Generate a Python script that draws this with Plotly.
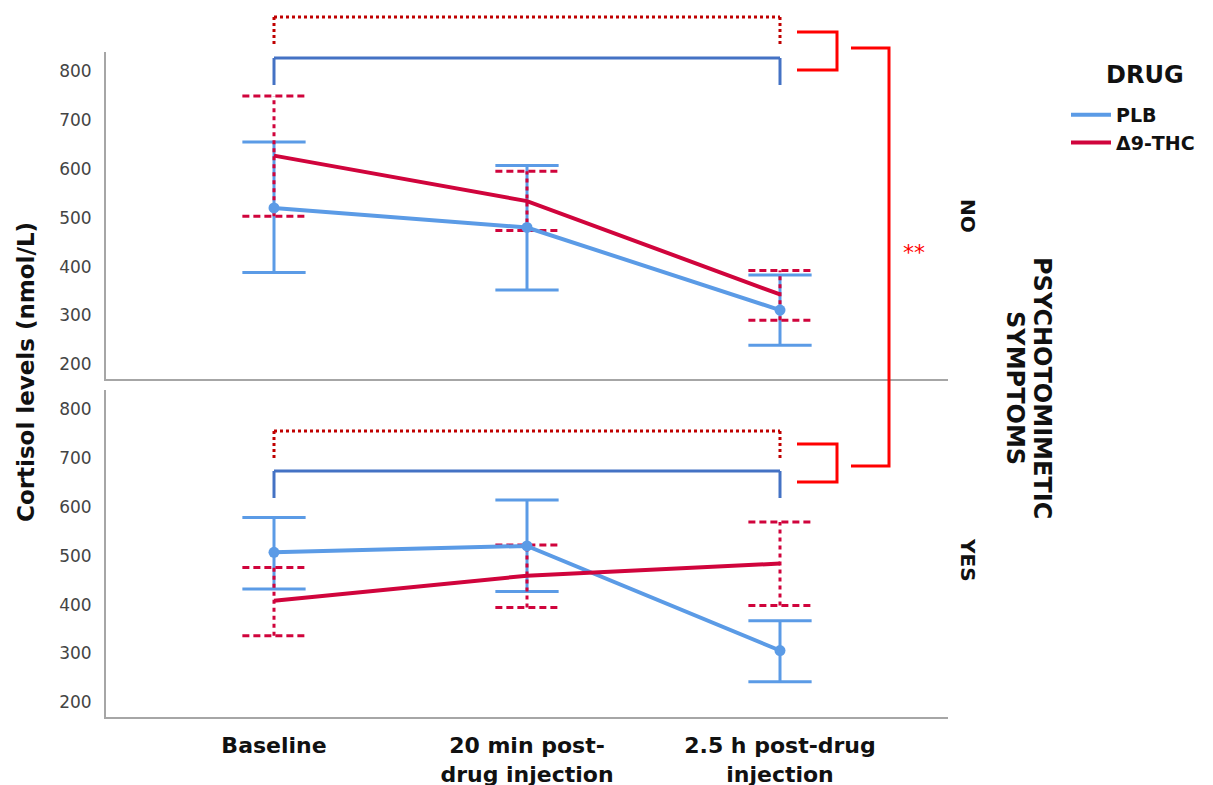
import plotly.graph_objects as go

# ---------------- data ----------------
timepoints = ["Baseline", "20 min post-<br>drug injection", "2.5 h post-drug<br>injection"]
x_pos = [0, 1, 2]

no_plb_mean = [520, 480, 311]
no_plb_lo = [388, 352, 239]
no_plb_hi = [655, 607, 383]
no_thc_mean = [627, 534, 343]
no_thc_lo = [503, 474, 290]
no_thc_hi = [749, 595, 392]

yes_plb_mean = [507, 520, 306]
yes_plb_lo = [432, 427, 242]
yes_plb_hi = [578, 614, 367]
yes_thc_mean = [408, 459, 484]
yes_thc_lo = [336, 394, 398]
yes_thc_hi = [476, 522, 569]

y_ticks = [200, 300, 400, 500, 600, 700, 800]

# ---------------- geometry / style ----------------
W, H = 1213, 785
OFF = 8  # page body margin
ML, MR, MT, MB = 98, 273, 44, 76
PW = W - ML - MR
PH = H - MT - MB


def px_x(px):
    return (px - OFF - ML) / PW


def px_y(py):
    return (H - MB - (py - OFF)) / PH


BLUE = "#5B9BE6"
RED = "#D0043C"
SQ = "#E0607E"
BR_BLUE = "#4472C4"
BR_DRED = "#C00000"
BR_RED = "#FF0000"
FONT = "DejaVu Sans"
CAP_HW = 0.125

fig = go.Figure()


def errbar(x, lo, hi, hw):
    vx, vy, cx, cy = [], [], [], []
    for xi, l, h in zip(x, lo, hi):
        vx += [xi, xi, None]
        vy += [l, h, None]
        cx += [xi - hw, xi + hw, None, xi - hw, xi + hw, None]
        cy += [l, l, None, h, h, None]
    return vx, vy, cx, cy


panels = [
    ("x", "y", no_plb_mean, no_plb_lo, no_plb_hi, no_thc_mean, no_thc_lo, no_thc_hi, True),
    ("x2", "y2", yes_plb_mean, yes_plb_lo, yes_plb_hi, yes_thc_mean, yes_thc_lo, yes_thc_hi, False),
]

for xa, ya, pm, pl, ph, tm, tl, th, show in panels:
    vx, vy, cx, cy = errbar(x_pos, pl, ph, CAP_HW)
    fig.add_trace(go.Scatter(x=vx, y=vy, mode="lines", line=dict(color=BLUE, width=3),
                             xaxis=xa, yaxis=ya, showlegend=False, hoverinfo="skip"))
    fig.add_trace(go.Scatter(x=cx, y=cy, mode="lines", line=dict(color=BLUE, width=3),
                             xaxis=xa, yaxis=ya, showlegend=False, hoverinfo="skip"))
    vx, vy, cx, cy = errbar(x_pos, tl, th, CAP_HW)
    fig.add_trace(go.Scatter(x=vx, y=vy, mode="lines", line=dict(color=RED, width=3, dash="4px,4px"),
                             xaxis=xa, yaxis=ya, showlegend=False, hoverinfo="skip"))
    fig.add_trace(go.Scatter(x=cx, y=cy, mode="lines", line=dict(color=RED, width=3, dash="7px,4px"),
                             xaxis=xa, yaxis=ya, showlegend=False, hoverinfo="skip"))
    fig.add_trace(go.Scatter(x=x_pos, y=pm, mode="lines", name="PLB", legendgroup="PLB",
                             line=dict(color=BLUE, width=4), xaxis=xa, yaxis=ya, showlegend=show))
    fig.add_trace(go.Scatter(x=x_pos, y=tm, mode="lines", name="Δ9-THC", legendgroup="THC",
                             line=dict(color=RED, width=4), xaxis=xa, yaxis=ya, showlegend=show))
    fig.add_trace(go.Scatter(x=x_pos, y=pm, mode="markers", legendgroup="PLB",
                             marker=dict(color=BLUE, size=11, symbol="circle"),
                             xaxis=xa, yaxis=ya, showlegend=False))
    fig.add_trace(go.Scatter(x=x_pos, y=tm, mode="markers", legendgroup="THC",
                             marker=dict(color="rgba(0,0,0,0)", size=12, symbol="square-open",
                                         line=dict(color=SQ, width=1.6)),
                             xaxis=xa, yaxis=ya, showlegend=False))

XR = [-0.664, 2.664]
YR = [170, 839]
axis_line = dict(showline=True, linecolor="#A6A6A6", linewidth=2, showgrid=False,
                 zeroline=False, ticks="", automargin=False)
ytickfont = dict(family=FONT, size=17, color="#444444")

fig.update_layout(
    width=W, height=H,
    margin=dict(l=ML, r=MR, t=MT, b=MB),
    plot_bgcolor="white", paper_bgcolor="white",
    template="none",
    font=dict(family=FONT, color="#222222"),
    xaxis=dict(domain=[0, 1], anchor="y", range=XR, showticklabels=False,
               tickvals=x_pos, **axis_line),
    xaxis2=dict(domain=[0, 1], anchor="y2", range=XR, tickvals=x_pos, ticktext=timepoints,
                ticklabelstandoff=8,
                tickfont=dict(family=FONT, size=22, color="#111111", weight="bold"), **axis_line),
    yaxis=dict(domain=[px_y(379), px_y(52)], anchor="x", range=YR, tickvals=y_ticks,
               ticklabelstandoff=9, tickfont=ytickfont, **axis_line),
    yaxis2=dict(domain=[px_y(717), px_y(390)], anchor="x2", range=YR, tickvals=y_ticks,
                ticklabelstandoff=9, tickfont=ytickfont, **axis_line),
    legend=dict(x=px_x(1066), y=px_y(96), xanchor="left", yanchor="top",
                xref="paper", yref="paper", bgcolor="rgba(0,0,0,0)",
                font=dict(family=FONT, size=19, color="#111111", weight="bold"),
                itemwidth=40, tracegroupgap=0),
)

shapes = []


def seg(x0, y0, x1, y1, color, dash="solid"):
    shapes.append(dict(type="line", xref="x", yref="paper", x0=x0, x1=x1,
                       y0=px_y(y0), y1=px_y(y1),
                       line=dict(color=color, width=3, dash=dash)))


# top panel comparison brackets (baseline vs 2.5 h)
seg(x_pos[0], 17, x_pos[2], 17, BR_DRED, "dot")
seg(x_pos[0], 17, x_pos[0], 46, BR_DRED, "dot")
seg(x_pos[2], 17, x_pos[2], 46, BR_DRED, "dot")
seg(x_pos[0], 58, x_pos[2], 58, BR_BLUE)
seg(x_pos[0], 58, x_pos[0], 85, BR_BLUE)
seg(x_pos[2], 58, x_pos[2], 85, BR_BLUE)
# bottom panel comparison brackets
seg(x_pos[0], 431, x_pos[2], 431, BR_DRED, "dot")
seg(x_pos[0], 431, x_pos[0], 460, BR_DRED, "dot")
seg(x_pos[2], 431, x_pos[2], 460, BR_DRED, "dot")
seg(x_pos[0], 471, x_pos[2], 471, BR_BLUE)
seg(x_pos[0], 471, x_pos[0], 498, BR_BLUE)
seg(x_pos[2], 471, x_pos[2], 498, BR_BLUE)


def bracket(x0, x1, ytop, ybot):
    shapes.append(dict(type="path", xref="paper", yref="paper",
                       path=f"M {px_x(x0)},{px_y(ytop)} L {px_x(x1)},{px_y(ytop)} "
                            f"L {px_x(x1)},{px_y(ybot)} L {px_x(x0)},{px_y(ybot)}",
                       line=dict(color=BR_RED, width=3)))


bracket(797, 837, 32, 70)
bracket(797, 837, 444, 482)
bracket(851, 889, 48, 466)

fig.update_layout(shapes=shapes)

annotations = [
    dict(x=px_x(914), y=px_y(252), text="**", showarrow=False,
         font=dict(family=FONT, size=22, color=BR_RED)),
    dict(x=px_x(968), y=px_y(216), text="<b>NO</b>", textangle=90, showarrow=False,
         font=dict(family=FONT, size=20, color="#111111")),
    dict(x=px_x(968), y=px_y(560), text="<b>YES</b>", textangle=90, showarrow=False,
         font=dict(family=FONT, size=20, color="#111111")),
    dict(x=px_x(1042), y=px_y(388), text="<b>PSYCHOTOMIMETIC</b>", textangle=90,
         showarrow=False, font=dict(family=FONT, size=24, color="#111111")),
    dict(x=px_x(1015), y=px_y(388), text="<b>SYMPTOMS</b>", textangle=90,
         showarrow=False, font=dict(family=FONT, size=24, color="#111111")),
    dict(x=px_x(26), y=px_y(372), text="<b>Cortisol levels (nmol/L)</b>", textangle=-90,
         showarrow=False, font=dict(family=FONT, size=23, color="#111111")),
    dict(x=px_x(1145), y=px_y(75), text="<b>DRUG</b>", showarrow=False,
         font=dict(family=FONT, size=24, color="#111111")),
]
for a in annotations:
    a["xref"] = "paper"
    a["yref"] = "paper"
    a["xanchor"] = "center"
    a["yanchor"] = "middle"
fig.update_layout(annotations=annotations)

fig.write_html("out.html")
